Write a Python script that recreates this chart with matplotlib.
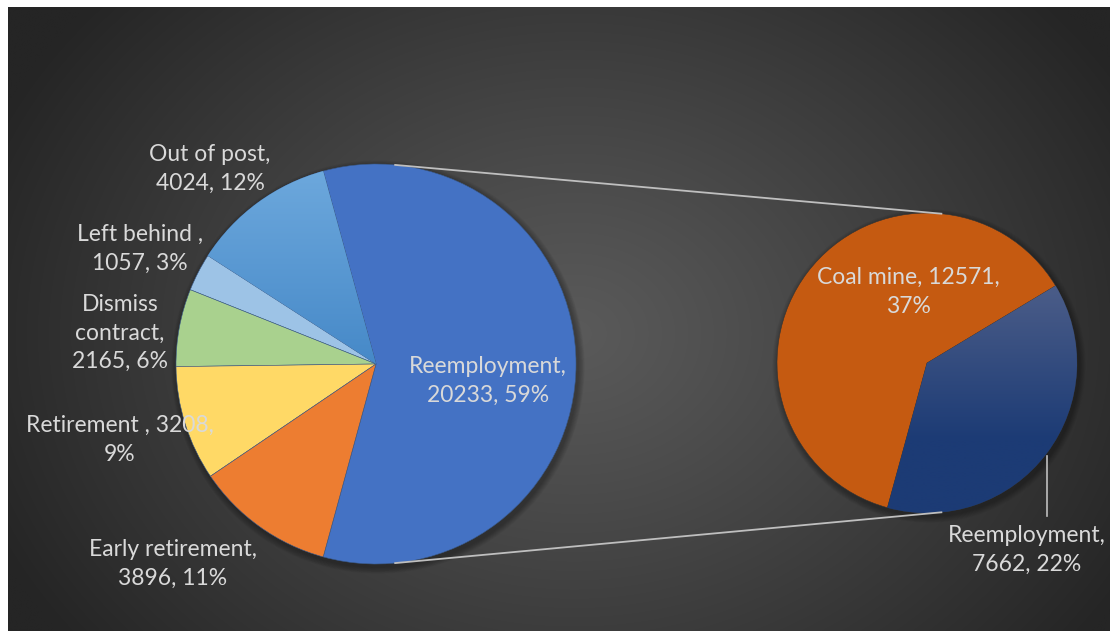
import numpy as np
import matplotlib
matplotlib.use("Agg")
import matplotlib.pyplot as plt
from matplotlib.patches import Circle

# data
main_labels = ["Reemployment", "Out of post", "Left behind ", "Dismiss contract",
               "Retirement ", "Early retirement"]
main_values = [20233, 4024, 1057, 2165, 3208, 3896]
main_pcts = ["59%", "12%", "3%", "6%", "9%", "11%"]

sub_labels = ["Reemployment", "Coal mine"]
sub_values = [7662, 12571]
sub_pcts = ["22%", "37%"]

main_colors = ["#4472C4", "#5B9BD5", "#9DC3E6", "#A9D18E", "#FFD966", "#ED7D31"]
sub_colors = ["#1C3B75", "#C55A11"]
txt_col = "#D9D9D9"

W, H = 1110, 631
fig = plt.figure(figsize=(W / 100, H / 100), dpi=100)
fig.patch.set_facecolor("white")
ax = fig.add_axes([0, 0, 1, 1])

# radial gradient background
yy, xx = np.mgrid[0:H, 0:W]
d = np.sqrt(((xx - 570) / 1.0) ** 2 + ((yy - 330) * 1.25) ** 2) / 640
d = np.clip(d, 0, 1)
g = (0x5A - (0x5A - 0x25) * d ** 1.1) / 255
bg = np.dstack([g, g, g])
ax.imshow(bg, extent=(8, W, 0, H - 7), origin="upper", zorder=0)

c1, r1 = (376, H - 364), 200
c2, r2 = (927, H - 363), 150

# soft shadows
for k in range(8):
    for c, r in ((c1, r1), (c2, r2)):
        ax.add_patch(Circle((c[0] + 2, c[1] - 3), r + 1 + k * 0.8, color="black",
                            alpha=0.04, lw=0, zorder=1))

start = -360 * main_values[0] / sum(main_values) / 2
w1, _ = ax.pie(main_values, colors=main_colors, center=c1, radius=r1,
               startangle=start, counterclock=True,
               wedgeprops=dict(edgecolor="#3a5a8a", linewidth=0.4, zorder=2))
w2, _ = ax.pie(sub_values, colors=sub_colors, center=c2, radius=r2,
               startangle=start, counterclock=True,
               wedgeprops=dict(edgecolor="#333333", linewidth=0.4, zorder=2))


def vgrad(wedge, top, bot, ytop, ybot, ylo, yhi):
    # gradient from colour `top` at ytop to `bot` at ybot, covering ylo..yhi
    n = 200
    ys = np.linspace(yhi, ylo, n)
    t = np.clip((ytop - ys) / (ytop - ybot), 0, 1)[:, None]
    top = np.array(matplotlib.colors.to_rgb(top))
    bot = np.array(matplotlib.colors.to_rgb(bot))
    img = (top * (1 - t) + bot * t)[:, None, :].repeat(2, axis=1)
    im = ax.imshow(img, extent=(0, W, ylo, yhi), origin="upper", zorder=3,
                   aspect="auto", interpolation="bilinear")
    im.set_clip_path(wedge)


vgrad(w1[1], "#6EA9DD", "#4689C8", c1[1] + r1, c1[1], c1[1] - 5, c1[1] + r1 + 5)
vgrad(w2[0], "#4A5C88", "#1C3B75", H - 290, H - 440, c2[1] - r2 - 5, c2[1] + r2 + 5)

ax.set_xlim(0, W)
ax.set_ylim(0, H)
ax.set_aspect("auto")
ax.axis("off")

# connector lines
a = np.deg2rad(84.5)
for s in (1, -1):
    ax.plot([c1[0] + r1 * np.cos(a), c2[0] + r2 * np.cos(a)],
            [c1[1] + s * r1 * np.sin(a), c2[1] + s * r2 * np.sin(a)],
            color="#BFBFBF", lw=1.3, zorder=4)

# leader line for right reemployment
ax.plot([1047, 1047], [H - 456, H - 516], color="#BFBFBF", lw=1.2, zorder=4)

fs = 16.5
font = "Lato"
lab = dict(color=txt_col, fontsize=fs, family=font, ha="center", va="center",
           linespacing=1.45, zorder=5)

def val(v, p):
    return f"{v}, {p}"

ax.text(488, H - 381, f"{main_labels[0]},\n{val(main_values[0], main_pcts[0])}", **lab)
ax.text(210, H - 169, f"{main_labels[1]},\n{val(main_values[1], main_pcts[1])}", **lab)
ax.text(140, H - 249, f"{main_labels[2]},\n{val(main_values[2], main_pcts[2])}", **lab)
ax.text(120, H - 333, "Dismiss\ncontract,\n" + val(main_values[3], main_pcts[3]), **lab)
ax.text(120, H - 440, f"{main_labels[4]}, {main_values[4]},\n{main_pcts[4]}", **lab)
ax.text(173, H - 564, f"{main_labels[5]},\n{val(main_values[5], main_pcts[5])}", **lab)
ax.text(908, H - 292, f"{sub_labels[1]}, {sub_values[1]},\n{sub_pcts[1]}", **lab)
ax.text(1027, H - 550, f"{sub_labels[0]},\n{val(sub_values[0], sub_pcts[0])}", **lab)

fig.savefig("out.png", dpi=100)
